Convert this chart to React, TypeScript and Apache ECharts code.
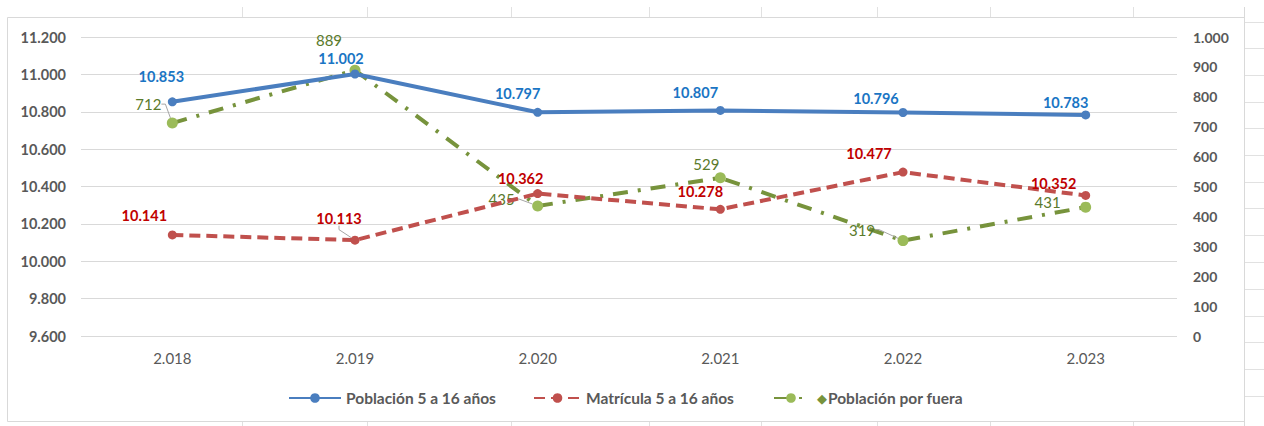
import React, { useEffect, useRef } from "react";
import * as echarts from "echarts";

const categories = ["2.018", "2.019", "2.020", "2.021", "2.022", "2.023"];
const poblacion = [10853, 11002, 10797, 10807, 10796, 10783];
const matricula = [10141, 10113, 10362, 10278, 10477, 10352];
const fuera = [712, 889, 435, 529, 319, 431];

const names = ["Población 5 a 16 años", "Matrícula 5 a 16 años", "Población por fuera"];

// label displacement (layout, not data)
const labelShift: number[][][] = [
  [[-11, -25], [-14, -16], [-20, -19], [-25, -18], [-27, -14], [-20, -12]],
  [[-28, -19], [-16, -22], [-17, -15], [-20, -18], [-34, -19], [-32, -12]],
  [[-24, -19], [-26, -30], [-36, -7], [-14, -14], [-41, -11], [-38, -5]],
];
const leader: boolean[][] = [
  [false, false, false, false, false, false],
  [false, true, false, false, false, false],
  [true, false, true, false, true, false],
];

const fmt = (v: number) => String(v).replace(/\B(?=(\d{3})+(?!\d))/g, ".");
const FONT = "Lato";

export default function App() {
  const ref = useRef<HTMLDivElement>(null);
  useEffect(() => {
    const chart = echarts.init(ref.current!, undefined, { renderer: "svg" });
    const mk = (vals: number[], si: number) =>
      vals.map((v, i) => ({
        value: v,
        labelLine: { show: leader[si][i], lineStyle: { color: "#a6a6a6", width: 1 }, length2: 4, smooth: false },
      }));
    const cellLinesV = [242, 367, 511, 649, 761, 877, 990, 1133];
    const cellLinesH = [22, 48, 75, 102, 128, 155, 182, 208, 235, 262, 289, 316, 342, 369, 396];
    const graphics: any[] = [];
    cellLinesV.forEach((x) => {
      graphics.push({ type: "line", silent: true, shape: { x1: x + 0.5, y1: 7, x2: x + 0.5, y2: 17 }, style: { stroke: "#e1e1e1", lineWidth: 1 } });
      graphics.push({ type: "line", silent: true, shape: { x1: x + 0.5, y1: 422, x2: x + 0.5, y2: 426 }, style: { stroke: "#e1e1e1", lineWidth: 1 } });
    });
    cellLinesH.forEach((y) => {
      graphics.push({ type: "line", silent: true, shape: { x1: 1245, y1: y + 0.5, x2: 1264, y2: y + 0.5 }, style: { stroke: "#e1e1e1", lineWidth: 1 } });
    });
    graphics.push({ type: "line", silent: true, shape: { x1: 1244.5, y1: 7, x2: 1244.5, y2: 426 }, style: { stroke: "#d9d9d9", lineWidth: 1 } });
    graphics.push({
      type: "rect",
      silent: true,
      z: -1,
      shape: { x: 7.5, y: 17.5, width: 1237, height: 404 },
      style: { fill: "#ffffff", stroke: "#d9d9d9", lineWidth: 1 },
    });

    const legendText = { fontFamily: FONT, fontSize: 15.5, fontWeight: "bold" as const, color: "#595959" };

    chart.setOption({
      animation: false,
      backgroundColor: "#ffffff",
      graphic: graphics,
      grid: { left: 81, right: 87, top: 37, bottom: 90 },
      legend: [
        { data: [names[0]], left: 283, top: 385, itemWidth: 52, itemHeight: 12, textStyle: legendText },
        { data: [names[1]], left: 528, top: 385, itemWidth: 47, itemHeight: 12, textStyle: legendText },
        {
          data: [names[2]],
          left: 768,
          top: 385,
          itemWidth: 34,
          itemHeight: 12,
          formatter: (n: string) => "{d|◆}{t|" + n + "}",
          textStyle: {
            ...legendText,
            rich: {
              d: { color: "#77933C", fontSize: 13, padding: [0, 1, 0, 4], fontFamily: "DejaVu Sans" },
              t: { ...legendText },
            },
          },
        },
      ],
      xAxis: {
        type: "category",
        data: categories,
        boundaryGap: true,
        axisLine: { show: false },
        axisTick: { show: false },
        axisLabel: { color: "#595959", fontFamily: FONT, fontSize: 15, margin: 14 },
      },
      yAxis: [
        {
          type: "value",
          min: 9600,
          max: 11200,
          interval: 200,
          axisLine: { show: false },
          axisTick: { show: false },
          splitLine: { lineStyle: { color: "#d9d9d9", width: 1 } },
          axisLabel: { formatter: fmt, color: "#595959", fontFamily: FONT, fontSize: 14.5, fontWeight: "bold", margin: 15 },
        },
        {
          type: "value",
          min: 0,
          max: 1000,
          interval: 100,
          axisLine: { show: false },
          axisTick: { show: false },
          splitLine: { show: false },
          axisLabel: { formatter: fmt, color: "#595959", fontFamily: FONT, fontSize: 14, fontWeight: "bold", margin: 16 },
        },
      ],
      labelLayout: (p: any) => {
        const s = labelShift[p.seriesIndex][p.dataIndex];
        return { dx: s[0], dy: s[1] };
      },
      series: [
        {
          name: names[0],
          type: "line",
          yAxisIndex: 0,
          data: mk(poblacion, 0),
          symbol: "circle",
          symbolSize: 9,
          color: "#4A7EBF",
          lineStyle: { width: 4, color: "#4A7EBF" },
          itemStyle: { color: "#4A7EBF" },
          z: 4,
          label: {
            show: true,
            position: "inside",
            formatter: (p: any) => fmt(p.value),
            color: "#1A75C4",
            fontFamily: FONT,
            fontSize: 14.5,
            fontWeight: "bold",
          },
        },
        {
          name: names[1],
          type: "line",
          yAxisIndex: 0,
          data: mk(matricula, 1),
          symbol: "circle",
          symbolSize: 9,
          color: "#C0504D",
          lineStyle: { width: 4, color: "#C0504D", type: [11, 6] },
          itemStyle: { color: "#C0504D" },
          z: 3,
          label: {
            show: true,
            position: "inside",
            formatter: (p: any) => fmt(p.value),
            color: "#C00000",
            fontFamily: FONT,
            fontSize: 14.5,
            fontWeight: "bold",
          },
        },
        {
          name: names[2],
          type: "line",
          yAxisIndex: 1,
          data: mk(fuera, 2),
          symbol: "circle",
          symbolSize: 11,
          color: "#77933C",
          lineStyle: { width: 4, color: "#77933C", type: [15, 10, 3, 10] },
          itemStyle: { color: "#9BBB59" },
          z: 2,
          label: {
            show: true,
            position: "inside",
            formatter: (p: any) => fmt(p.value),
            color: "#5A7A2B",
            fontFamily: FONT,
            fontSize: 15,
          },
        },
      ],
    });
    return () => chart.dispose();
  }, []);
  return <div ref={ref} style={{ position: "fixed", left: 0, top: 0, width: 1264, height: 426 }} />;
}
